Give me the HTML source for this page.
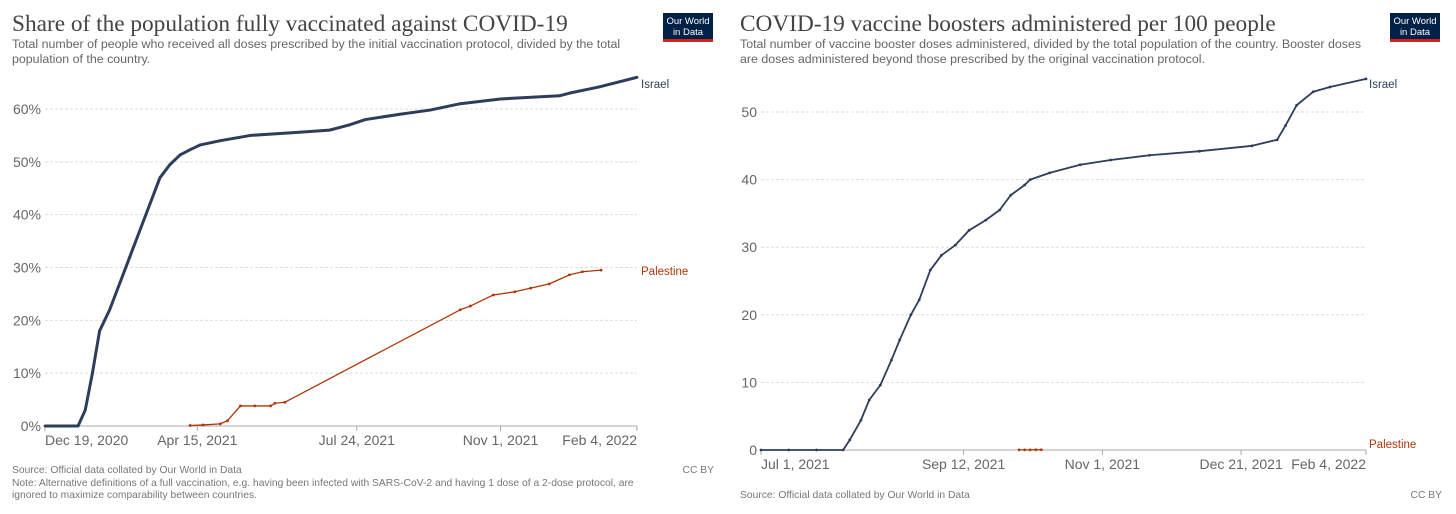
<!DOCTYPE html>
<html><head><meta charset="utf-8"><style>
body{margin:0;width:1456px;height:514px;background:#fff;overflow:hidden;font-family:"Liberation Sans",sans-serif}
svg{position:absolute;left:0;top:0}
</style></head><body>
<svg width="1456" height="514" id="svg">
<g>
<text x="12" y="31" font-family="Liberation Serif" font-size="23.3" fill="#444">Share of the population fully vaccinated against COVID-19</text>
<text x="12" y="48" font-size="12.4" fill="#666">Total number of people who received all doses prescribed by the initial vaccination protocol, divided by the total</text>
<text x="12" y="63" font-size="12.4" fill="#666">population of the country.</text>
<g><rect x="663" y="13" width="50" height="29" fill="#002147"/><rect x="663" y="39" width="50" height="3" fill="#ce261e"/>
<text x="688" y="24" font-size="9.5" fill="#fff" text-anchor="middle">Our World</text><text x="688" y="35" font-size="9.5" fill="#fff" text-anchor="middle">in Data</text></g>
</g>
<g>
<text x="740" y="31" font-family="Liberation Serif" font-size="23.3" fill="#444">COVID-19 vaccine boosters administered per 100 people</text>
<text x="740" y="48" font-size="12.4" fill="#666">Total number of vaccine booster doses administered, divided by the total population of the country. Booster doses</text>
<text x="740" y="63" font-size="12.4" fill="#666">are doses administered beyond those prescribed by the original vaccination protocol.</text>
<g><rect x="1390" y="13" width="50" height="29" fill="#002147"/><rect x="1390" y="39" width="50" height="3" fill="#ce261e"/>
<text x="1415" y="24" font-size="9.5" fill="#fff" text-anchor="middle">Our World</text><text x="1415" y="35" font-size="9.5" fill="#fff" text-anchor="middle">in Data</text></g>
</g>
<text x="12" y="473" font-size="10.3" fill="#777">Source: Official data collated by Our World in Data</text>
<text x="12" y="486" font-size="10.3" fill="#777">Note: Alternative definitions of a full vaccination, e.g. having been infected with SARS-CoV-2 and having 1 dose of a 2-dose protocol, are</text>
<text x="12" y="498" font-size="10.3" fill="#777">ignored to maximize comparability between countries.</text>
<text x="714" y="473" font-size="10.3" fill="#777" text-anchor="end">CC BY</text>
<text x="740" y="498" font-size="10.3" fill="#777">Source: Official data collated by Our World in Data</text>
<text x="1442" y="498" font-size="10.3" fill="#777" text-anchor="end">CC BY</text>
<g id="L"></g><g id="R"></g>
</svg>
<script>
// Left chart data (days since Dec 19, 2020; percent)
const lIsraelDays=[0,23,28,33,38,45,52,59,66,73,80,87,94,101,108,122,143,177,198,212,223,247,268,289,317,358,365,386,412];
const lIsraelVals=[0,0,3,10,18,22,27,32,37,42,47,49.5,51.3,52.3,53.2,54,55,55.6,56,57,58,59,59.8,61,61.9,62.5,63,64.2,66];
const lPalDays=[101,110,122,127,136,146,157,160,167,289,296,312,327,338,351,365,374,387];
const lPalVals=[0.1,0.2,0.4,1,3.8,3.8,3.8,4.3,4.5,22,22.7,24.8,25.4,26.1,26.9,28.6,29.2,29.5];
const lYTicks=[0,10,20,30,40,50,60];
const lXTickDays=[0,106,217,317,412];
const lXTickLabels=["Dec 19, 2020","Apr 15, 2021","Jul 24, 2021","Nov 1, 2021","Feb 4, 2022"];
// Right chart data (days since Jul 1, 2021; doses per 100)
const rIsraelDays=[0,10,20,29.6,32,36,39,43,47,50,54,57,61,65,70,75,81,86,90,95,97,104,115,126,140,158,177,186,189,193,199,205,218];
const rIsraelVals=[0,0,0,0,1.5,4.4,7.4,9.6,13.3,16.3,20,22.2,26.6,28.8,30.3,32.5,34,35.5,37.7,39.2,40,41,42.2,42.9,43.6,44.2,45,45.9,48,51,53,53.7,54.9];
const rPalDays=[93,95,97,99,101];
const rPalVals=[0.02,0.02,0.02,0.03,0.03];
const rYTicks=[0,10,20,30,40,50];
const rXTickDays=[0,73,123,173,218];
const rXTickLabels=["Jul 1, 2021","Sep 12, 2021","Nov 1, 2021","Dec 21, 2021","Feb 4, 2022"];

const NS="http://www.w3.org/2000/svg";
function mk(p,t,a){const e=document.createElementNS(NS,t);for(const k in a)e.setAttribute(k,a[k]);p.appendChild(e);return e;}
function chart(g,o){
  const x=d=>o.x0+(d-o.d0)/(o.d1-o.d0)*(o.x1-o.x0);
  const y=v=>o.y0-(v-o.v0)/(o.v1-o.v0)*(o.y0-o.y1);
  o.yt.forEach(v=>{
    const l=mk(g,'line',{x1:o.x0,x2:o.x1,y1:y(v),y2:y(v),stroke:'#ddd','stroke-dasharray':'3,2'});
    
    
    const t=mk(g,'text',{x:o.x0-4,y:y(v)+5,'font-size':14,fill:'#666','text-anchor':'end'});
    t.textContent=v+o.suf;
    
    
  });
  const ax=mk(g,'line',{x1:o.x0,x2:o.x1,y1:o.y0,y2:o.y0,stroke:'#aaa'});
  
  
  o.xd.forEach((d,i)=>{
    const xx=x(d);
    mk(g,'line',{x1:xx,x2:xx,y1:o.y0,y2:o.y0+5,stroke:'#aaa'});
    const anc=i==0?'start':(i==o.xd.length-1?'end':'middle');
    const t=mk(g,'text',{x:xx,y:o.y0+19,'font-size':14,fill:'#666','text-anchor':anc});
    t.textContent=o.xl[i];
    
    
  });
  o.series.forEach(s=>{
    const pts=s.d.map((d,i)=>x(d)+','+y(s.v[i])).join(' ');
    const pl=mk(g,'polyline',{points:pts,fill:'none',stroke:s.c,'stroke-width':s.w,'stroke-linejoin':'round'});
    
    
    s.d.forEach((d,i)=>{
      const c=mk(g,'circle',{cx:x(d),cy:y(s.v[i]),r:1.4,fill:s.c});
      
      
    });
    const t=mk(g,'text',{x:s.lx,y:s.ly,'font-size':11.5,fill:s.c});
    t.textContent=s.label;
    
    
  });
}
chart(document.getElementById('L'),{x0:45,x1:637,d0:0,d1:412,y0:426,y1:109,v0:0,v1:60,suf:'%',yt:lYTicks,xd:lXTickDays,xl:lXTickLabels,
 series:[{name:'israel',label:'Israel',c:'#2d3e5b',w:3,d:lIsraelDays,v:lIsraelVals,lx:641,ly:88},
         {name:'palestine',label:'Palestine',c:'#b13507',w:1.3,d:lPalDays,v:lPalVals,lx:641,ly:275}]});
chart(document.getElementById('R'),{x0:761,x1:1366,d0:0,d1:218,y0:450,y1:112,v0:0,v1:50,suf:'',yt:rYTicks,xd:rXTickDays,xl:rXTickLabels,
 series:[{name:'israel',label:'Israel',c:'#2d3e5b',w:1.8,d:rIsraelDays,v:rIsraelVals,lx:1369,ly:88},
         {name:'palestine',label:'Palestine',c:'#b13507',w:1.3,d:rPalDays,v:rPalVals,lx:1369,ly:448}]});
</script>
</body></html>
